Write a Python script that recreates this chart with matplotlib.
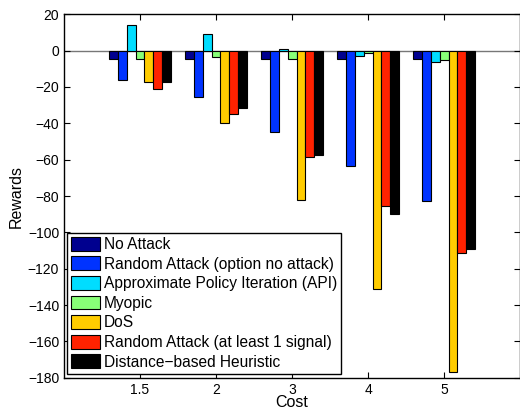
import numpy as np
import matplotlib
matplotlib.use('Agg')
import matplotlib.pyplot as plt

plt.rcParams['font.family'] = ['Liberation Sans', 'DejaVu Sans']

#=== data ===
costs = ['1.5', '2', '3', '4', '5']
labels = ['No Attack',
          'Random Attack (option no attack)',
          'Approximate Policy Iteration (API)',
          'Myopic',
          'DoS',
          'Random Attack (at least 1 signal)',
          'Distance\u2212based Heuristic']
no_attack   = [-4.6, -4.6, -4.6, -4.6, -4.6]
rand_opt    = [-16.2, -25.7, -45.0, -63.6, -83.0]
api         = [14.0, 9.0, 1.0, -2.7, -6.5]
myopic      = [-4.6, -3.5, -4.5, -1.5, -4.9]
dos         = [-17.0, -40.0, -82.1, -131.0, -176.8]
rand_one    = [-21.3, -34.7, -58.7, -85.6, -111.4]
distance    = [-17.0, -31.4, -57.4, -89.7, -109.4]

series = [no_attack, rand_opt, api, myopic, dos, rand_one, distance]
colors = ['#00008F', '#0033FF', '#00DDFF', '#88FF77', '#FFCC00', '#FF2200', '#000000']

fig = plt.figure(figsize=(5.2, 4.11), dpi=100)
ax = fig.add_axes([64/520, 1-377.7/411, (519.5-64)/520, (377.7-14.3)/411])

x = np.arange(1, len(costs)+1)
w = 0.116
for i, (vals, c, lab) in enumerate(zip(series, colors, labels)):
    ax.bar(x + (i-3)*w, vals, w, color=c, edgecolor='black', linewidth=0.8, label=lab)

ax.axhline(0, color='#777777', linewidth=1.0, zorder=0.5)

ax.set_xlim(0, 5.99)
ax.set_ylim(-180, 20)
ax.set_xticks(x)
ax.set_xticklabels(costs)
ax.set_yticks(np.arange(-180, 21, 20))
ax.tick_params(direction='in', top=True, right=True, labelsize=10, length=4, width=0.8)
for s in ax.spines.values():
    s.set_linewidth(1.0)
ax.set_xlabel('Cost', fontsize=11.5, labelpad=-1)
ax.set_ylabel('Rewards', fontsize=11.5, labelpad=3)

leg = ax.legend(loc='upper left', bbox_to_anchor=(67/520, 1-232.7/411),
                bbox_transform=fig.transFigure, borderaxespad=0,
                fontsize=11.2, fancybox=False, framealpha=1, edgecolor='black',
                handlelength=1.9, handleheight=1.0, labelspacing=0.28,
                handletextpad=0.2, borderpad=0.25)
leg.get_frame().set_linewidth(1.0)

plt.savefig('out.png', dpi=100)
